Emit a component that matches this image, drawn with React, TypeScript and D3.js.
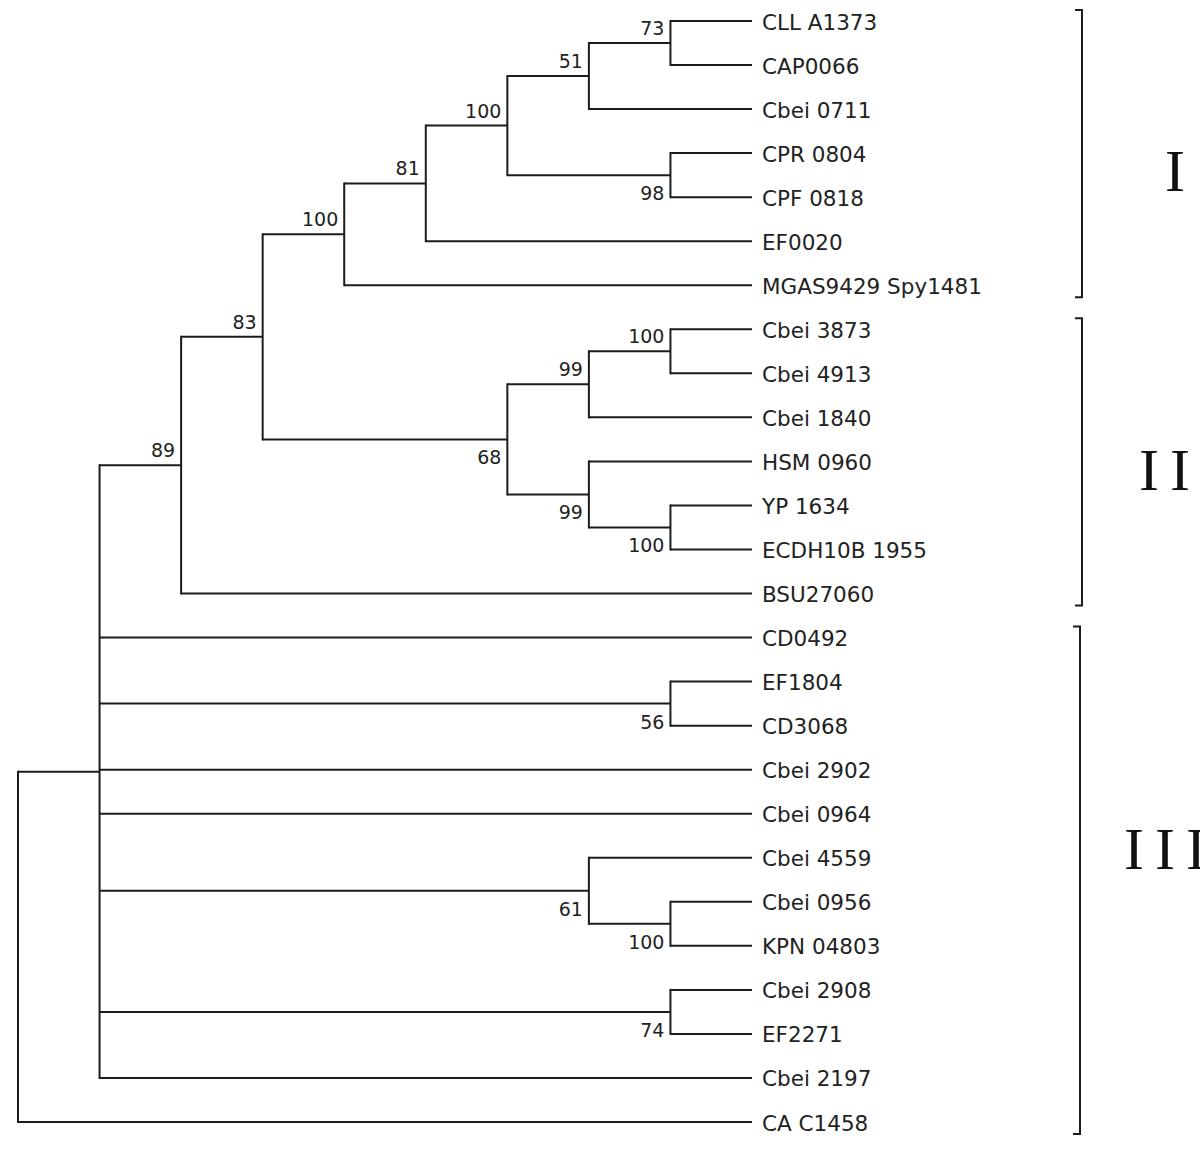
import React from "react";
import * as d3 from "d3";

// Leaf names, top to bottom
const leafNames: string[] = [
  "CLL A1373", "CAP0066", "Cbei 0711", "CPR 0804", "CPF 0818", "EF0020",
  "MGAS9429 Spy1481", "Cbei 3873", "Cbei 4913", "Cbei 1840", "HSM 0960",
  "YP 1634", "ECDH10B 1955", "BSU27060", "CD0492", "EF1804", "CD3068",
  "Cbei 2902", "Cbei 0964", "Cbei 4559", "Cbei 0956", "KPN 04803",
  "Cbei 2908", "EF2271", "Cbei 2197", "CA C1458",
];

// Internal nodes: id, parent id, bootstrap, label side
const nodeIds: string[] = [
  "root", "n97", "n89", "n83", "n100a", "n81", "n100b", "n51", "n73", "n98",
  "n68", "n99a", "n100c", "n99b", "n100d", "n56", "n61", "n100e", "n74",
];
const nodeParents: (string | null)[] = [
  null, "root", "n97", "n89", "n83", "n100a", "n81", "n100b", "n51", "n100b",
  "n83", "n68", "n99a", "n68", "n99b", "n97", "n97", "n61", "n97",
];
const nodeSupport: (number | null)[] = [
  null, null, 89, 83, 100, 81, 100, 51, 73, 98,
  68, 99, 100, 99, 100, 56, 61, 100, 74,
];
const nodeLabelSide: string[] = [
  "", "", "above", "above", "above", "above", "above", "above", "above", "below",
  "below", "above", "above", "below", "below", "below", "below", "below", "below",
];

// Leaf parents (same order as leafNames)
const leafParents: string[] = [
  "n73", "n73", "n51", "n98", "n98", "n81", "n100a", "n100c", "n100c", "n99a",
  "n99b", "n100d", "n100d", "n89", "n97", "n56", "n56", "n97", "n97", "n61",
  "n100e", "n100e", "n74", "n74", "n97", "root",
];

// Child ordering inside each internal node
const childOrder: Record<string, string[]> = {
  root: ["n97", "L25"],
  n97: ["n89", "L14", "n56", "L17", "L18", "n61", "n74", "L24"],
  n89: ["n83", "L13"],
  n83: ["n100a", "n68"],
  n100a: ["n81", "L6"],
  n81: ["n100b", "L5"],
  n100b: ["n51", "n98"],
  n51: ["n73", "L2"],
  n73: ["L0", "L1"],
  n98: ["L3", "L4"],
  n68: ["n99a", "n99b"],
  n99a: ["n100c", "L9"],
  n100c: ["L7", "L8"],
  n99b: ["L10", "n100d"],
  n100d: ["L11", "L12"],
  n56: ["L15", "L16"],
  n61: ["L19", "n100e"],
  n100e: ["L20", "L21"],
  n74: ["L22", "L23"],
};

// Clades
const cladeNames: string[] = ["I", "II", "III"];
const cladeFirstLeaf: number[] = [0, 7, 14];
const cladeLastLeaf: number[] = [6, 13, 25];
const cladeLabelLeafPos: number[] = [3.4, 10.2, 18.8];
const cladeLabelX: number[] = [1165, 1139, 1124];
const cladeBarX: number[] = [1082, 1082, 1080];

type TNode = { id: string; name?: string; support?: number | null; side?: string; children?: TNode[] };

function buildTree(): TNode {
  const map: Record<string, TNode> = {};
  nodeIds.forEach((id, i) => {
    map[id] = { id, support: nodeSupport[i], side: nodeLabelSide[i] };
  });
  leafNames.forEach((n, i) => {
    map["L" + i] = { id: "L" + i, name: n };
  });
  nodeParents.forEach((p, i) => { if (p && !childOrder[p].includes(nodeIds[i])) console.warn("mismatch", nodeIds[i]); });
  leafParents.forEach((p, i) => { if (!childOrder[p].includes("L" + i)) console.warn("mismatch leaf", i); });
  Object.keys(childOrder).forEach((k) => {
    map[k].children = childOrder[k].map((c) => map[c]);
  });
  return map["root"];
}

export default function App() {
  const width = 1200;
  const height = 1156;
  const root = d3.hierarchy<TNode>(buildTree(), (d) => d.children);
  root.eachAfter((n: any) => {
    n.h = n.children ? 1 + d3.max(n.children, (c: any) => c.h as number)! : 0;
  });
  const maxH = (root as any).h as number;
  const xScale = d3.scaleLinear().domain([maxH, 0]).range([18, 752]);
  const yScale = d3.scaleLinear().domain([0, leafNames.length - 1]).range([21, 1122]);

  let leafIdx = 0;
  root.eachAfter((n: any) => {
    if (!n.children) {
      n.py = yScale(leafIdx++);
    } else {
      const k = n.children.length;
      if (k > 2) n.py = n.children[Math.floor((k - 1) / 2)].py + 2;
      else n.py = (n.children[0].py + n.children[k - 1].py) / 2;
    }
    n.px = xScale(n.h);
  });

  const lines: JSX.Element[] = [];
  const stroke = "#1c1c1c";
  const sw = 2;
  root.each((n: any) => {
    if (n.children) {
      const ys = n.children.map((c: any) => c.py);
      lines.push(
        <line key={"v" + n.data.id} x1={n.px} x2={n.px} y1={d3.min(ys)} y2={d3.max(ys)} stroke={stroke} strokeWidth={sw} strokeLinecap="square" />
      );
      n.children.forEach((c: any) => {
        lines.push(
          <line key={"h" + c.data.id} x1={n.px} x2={c.px} y1={c.py} y2={c.py} stroke={stroke} strokeWidth={sw} />
        );
      });
    }
  });

  const supportLabels: JSX.Element[] = [];
  root.each((n: any) => {
    if (n.children && n.data.support != null && n.parent) {
      const above = n.data.side === "above";
      supportLabels.push(
        <text key={"s" + n.data.id} x={n.px - 6} y={n.py + (above ? -15 : 18)} textAnchor="end"
          dominantBaseline="central" fontSize={19} fontFamily="DejaVu Sans, sans-serif" fill="#222">
          {n.data.support}
        </text>
      );
    }
  });

  const leafLabels = root.leaves().map((n: any) => (
    <text key={"l" + n.data.id} x={n.px + 10} y={n.py + 1} dominantBaseline="central"
      fontSize={21.5} fontFamily="DejaVu Sans, sans-serif" fill="#222">
      {n.data.name}
    </text>
  ));

  const clades = cladeNames.map((name, i) => {
    const y1 = yScale(cladeFirstLeaf[i]) - 11;
    const y2 = yScale(cladeLastLeaf[i]) + 12;
    const bx = cladeBarX[i];
    return (
      <g key={"c" + name}>
        <path d={`M${bx - 7},${y1}H${bx}V${y2}H${bx - 7}`} fill="none" stroke={stroke} strokeWidth={sw} />
        <text x={cladeLabelX[i]} y={yScale(cladeLabelLeafPos[i])} dominantBaseline="central"
          fontSize={60} fontFamily="Liberation Serif, serif" letterSpacing={11} fill="#111">
          {name}
        </text>
      </g>
    );
  });

  return (
    <svg width={width} height={height} style={{ position: "absolute", left: 0, top: 0, background: "#fff" }}>
      {lines}
      {supportLabels}
      {leafLabels}
      {clades}
    </svg>
  );
}
